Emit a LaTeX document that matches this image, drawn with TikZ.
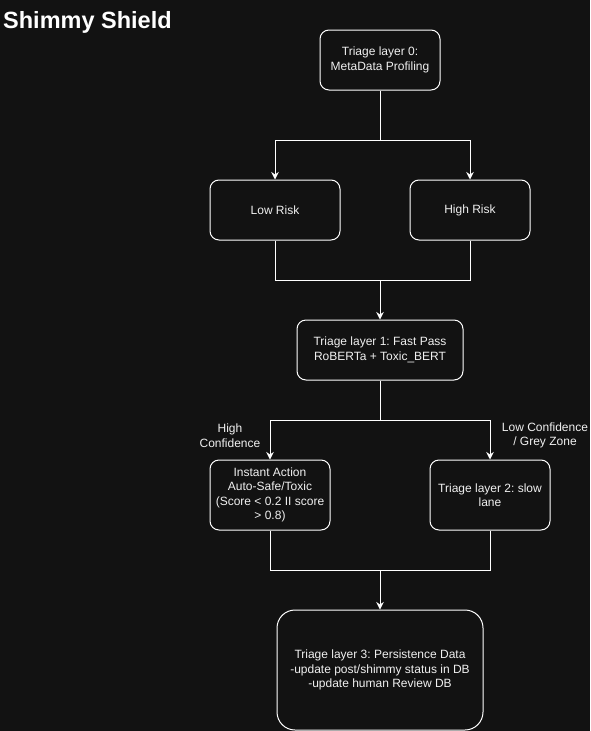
\documentclass[tikz,border=0pt]{standalone}
\usepackage{fontspec}
\setmainfont{Liberation Sans}
\usetikzlibrary{arrows.meta}
\frenchspacing
\definecolor{bgdark}{HTML}{121212}
\definecolor{txtlight}{HTML}{F0F0F0}
\tikzset{
    box/.style={draw=white, line width=1pt, rounded corners=9pt, fill=bgdark, text=txtlight,
        align=center, inner sep=0pt, font=\fontsize{12}{14.5}\selectfont},
    flow/.style={draw=white, line width=1pt},
    arr/.style={flow, -{Stealth[length=7.5pt,width=7.5pt,inset=2.5pt]}},
    lbl/.style={text=txtlight, align=center, inner sep=0pt, font=\fontsize{12}{14.5}\selectfont}
}
\begin{document}
\begin{tikzpicture}[x=1pt,y=-1pt]
    \fill[bgdark] (0,0) rectangle (590,731);
    \useasboundingbox (0,0) rectangle (590,731);
    \node[anchor=base west, text=white, inner sep=0pt, font=\bfseries\fontsize{23.5}{28}\selectfont] (title) at (3,28) {Shimmy Shield};
    % layer 0 and risk split
    \node[box, minimum width=120pt, minimum height=60pt] (l0) at (380,60) {Triage layer 0:\\MetaData Profiling};
    \node[box, minimum width=130pt, minimum height=60pt] (low) at (275,210) {Low Risk};
    \node[box, minimum width=120pt, minimum height=60pt] (high) at (470,210) {High Risk};
    \draw[flow] (l0.south) -- (l0.south |- 0,140) coordinate (fork0);
    \draw[arr] (fork0) -| (low.north);
    \draw[arr] (fork0) -| (high.north);
    % layer 1
    \node[box, minimum width=166pt, minimum height=60pt] (l1) at (380,350) {Triage layer 1: Fast Pass\\RoBERTa + Toxic\_BERT};
    \draw[flow] (low.south) |- (l1.north |- 0,280) coordinate (join0);
    \draw[flow] (high.south) |- (join0);
    \draw[arr] (join0) -- (l1.north);
    % confidence split
    \node[box, minimum width=120pt, minimum height=70pt] (instant) at (270,495) {Instant Action\\Auto-Safe/Toxic\\(Score < 0.2 II score\\> 0.8)};
    \node[box, minimum width=120pt, minimum height=70pt] (slow) at (490,495) {Triage layer 2: slow\\lane};
    \draw[flow] (l1.south) -- (l1.south |- 0,420) coordinate (fork1);
    \draw[arr] (fork1) -| (instant.north);
    \draw[arr] (fork1) -| (slow.north);
    \node[lbl] (highconf) at (230,435.5) {High\\Confidence};
    \node[lbl] (lowconf) at (545,435.5) {Low Confidence\\/ Grey Zone};
    % layer 3
    \node[box, rounded corners=18pt, minimum width=206pt, minimum height=120pt] (l3) at (380,670) {Triage layer 3: Persistence Data\\-update post/shimmy status in DB\\-update human Review DB};
    \draw[flow] (instant.south) |- (l3.north |- 0,570) coordinate (join1);
    \draw[flow] (slow.south) |- (join1);
    \draw[arr] (join1) -- (l3.north);
\end{tikzpicture}
\end{document}
